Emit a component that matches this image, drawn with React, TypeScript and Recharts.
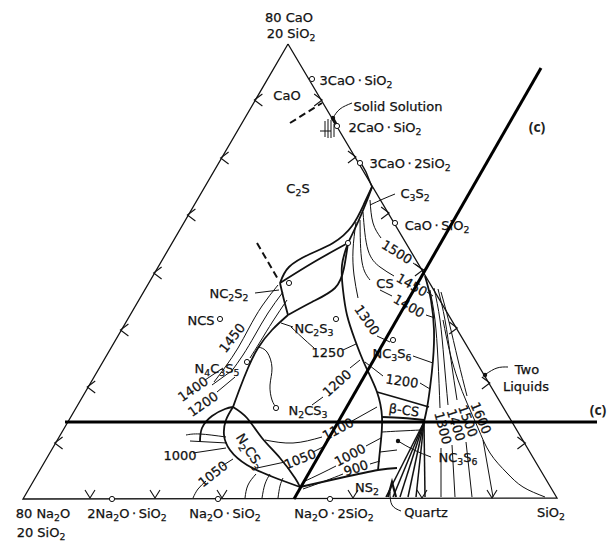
import React from "react";
import { Scatter, ScatterChart, XAxis, YAxis } from "recharts";

const TRIANGLE = [[288, 44], [23, 499], [557, 498], [288, 44]];
const CUT_INCLINED = [[541, 68], [294, 499]];
const CUT_LEVEL = [[65, 422], [597, 422]];

// field boundaries
const C2S_LENS = [[280, 283], [289, 267], [310, 254], [333, 243], [352, 226], [364, 204], [372, 187]];
const NC2S2_TOP = [[280, 283], [314, 262], [348, 243]];
const C3S2_NECK = [[348, 243], [358, 222], [366, 203], [372, 187]];
const C3S2_TIP = [[372, 187], [366, 172], [361, 163]];
const NC2S2_STEM = [[280, 283], [284, 300], [288, 315]];
const NC2S2_LOWER = [[288, 315], [312, 302], [335, 288], [344, 268], [348, 243]];
const NC2S3_LEFT = [[288, 315], [272, 330], [258, 348], [248, 368], [240, 388], [233, 407]];
const CS_NC3S6 = [[348, 243], [342, 265], [343, 290], [347, 315], [355, 340], [365, 365], [377, 392], [382, 417], [381, 440], [378, 470]];
const NS2_TOP = [[300, 487], [340, 478], [378, 470], [397, 468]];
const BETA_TOP = [[377, 392], [405, 400], [429, 407]];
const BETA_BOTTOM = [[382, 417], [403, 418], [424, 420]];
const TRIDYMITE = [[425, 276], [431, 300], [434, 330], [433, 360], [430, 388], [427, 408], [424, 422]];
const N2CS3_OUTER = [[233, 407], [247, 418], [262, 438], [280, 458], [295, 478], [300, 487]];
const N2CS3_INNER = [[233, 407], [226, 420], [224, 435], [230, 450], [247, 465], [273, 477], [300, 487]];
const NCS_ARC = [[200, 442], [202, 428], [212, 416], [225, 409], [233, 407]];
const QUARTZ_FAN_1 = [[424, 422], [386, 497]];
const QUARTZ_FAN_2 = [[424, 422], [393, 497]];
const QUARTZ_FAN_3 = [[424, 422], [400, 497]];
const QUARTZ_FAN_4 = [[424, 422], [408, 497]];
const QUARTZ_FAN_5 = [[424, 422], [416, 497]];
const QUARTZ_FAN_6 = [[424, 422], [425, 497]];
const CRISTOBALITE = [[443, 320], [450, 353], [458, 380], [467, 403], [478, 428], [490, 453], [507, 473], [523, 487], [545, 497]];
const SS_BAR = [[332, 117], [337, 126]];
const QUARTZ_WEDGE = [[388, 497], [392, 482], [396, 497]];

// isotherms
const ISO_1450_A = [[278, 285], [262, 306], [249, 328], [238, 348], [226, 366], [214, 382]];
const ISO_1450_B = [[283, 292], [268, 313], [255, 335], [243, 355], [231, 372]];
const ISO_1450_C = [[287, 300], [273, 321], [260, 342], [250, 358]];
const ISO_N4_1400_A = [[205, 380], [223, 368]];
const ISO_N4_1400_B = [[212, 385], [230, 372]];
const ISO_N4_1200 = [[217, 392], [235, 377]];
const ISO_N2CS3_LOOP = [[258, 347], [267, 352], [272, 368], [270, 385], [272, 400], [276, 407]];
const ISO_1250_A = [[291, 327], [305, 340], [314, 348]];
const ISO_1250_B = [[343, 350], [356, 344]];
const ISO_1200_NS_A = [[312, 405], [323, 397]];
const ISO_1200_NS_B = [[350, 368], [360, 360]];
const ISO_1300_CS_A = [[356, 222], [353, 250], [354, 275], [358, 298]];
const ISO_1300_CS_B = [[377, 336], [390, 342]];
const ISO_1500_A = [[370, 200], [373, 223], [381, 238]];
const ISO_1500_B = [[413, 263], [424, 270]];
const ISO_1450_CS_A = [[363, 212], [368, 250], [380, 267], [394, 276]];
const ISO_1450_CS_B = [[427, 292], [433, 296]];
const ISO_1400_CS_A = [[360, 220], [362, 262], [370, 280]];
const ISO_1400_CS_A2 = [[380, 290], [392, 296]];
const ISO_1400_CS_B = [[426, 315], [435, 318]];
const ISO_1200_R_A = [[365, 362], [383, 376]];
const ISO_1200_R_B = [[420, 383], [430, 389]];
const ISO_1100_A = [[265, 440], [293, 443], [322, 437]];
const ISO_1100_B = [[352, 421], [377, 407]];
const ISO_1000_A = [[303, 482], [320, 474], [336, 466]];
const ISO_1000_B = [[366, 446], [381, 438]];
const ISO_900_A = [[303, 489], [325, 481], [343, 474]];
const ISO_900_B = [[370, 464], [380, 461]];
const ISO_1050_MID_A = [[257, 468], [285, 462]];
const ISO_1050_MID_B = [[313, 452], [325, 446]];
const ISO_1000_LEFT = [[193, 453], [226, 448]];
const ISO_LEFT_A = [[186, 435], [200, 434], [226, 437]];
const ISO_LEFT_B = [[190, 441], [227, 443]];
const ISO_1050_LEFT_A = [[193, 498], [198, 489], [206, 481]];
const ISO_1050_LEFT_B = [[222, 466], [233, 459]];
const ISO_NS_A = [[245, 498], [248, 485], [256, 474]];
const ISO_NS_B = [[262, 498], [265, 484], [270, 474]];
const ISO_NS_C = [[278, 498], [280, 486], [283, 478]];
const ISO_NC3S6_A = [[382, 432], [400, 431], [421, 430]];
const ISO_NC3S6_B = [[380, 452], [397, 450]];
const ISO_1300_SI_A = [[430, 290], [435, 320], [438, 360], [440, 408]];
const ISO_1300_SI_B = [[441, 448], [441, 497]];
const ISO_1400_SI_A = [[434, 288], [440, 320], [444, 360], [448, 405]];
const ISO_1400_SI_B = [[452, 445], [455, 497]];
const ISO_1500_SI_A = [[438, 289], [445, 320], [451, 360], [457, 400]];
const ISO_1500_SI_B = [[466, 442], [472, 497]];
const ISO_1600_SI_A = [[441, 292], [449, 322], [458, 360], [467, 396]];
const ISO_1600_SI_B = [[483, 440], [493, 497]];

// leaders and dashed tie lines
const LEAD_SOLID = [[333, 118], [340, 109], [352, 103]];
const LEAD_C3S2 = [[370, 205], [383, 199], [395, 194]];
const LEAD_NC2S2 = [[255, 293], [279, 290]];
const LEAD_NC2S3 = [[281, 323], [293, 327]];
const LEAD_NC3S6_UP = [[413, 356], [433, 363]];
const LEAD_NC3S6_LOW = [[398, 441], [414, 450], [431, 457]];
const LEAD_QUARTZ = [[390, 492], [392, 505], [401, 511]];
const LEAD_LIQUIDS = [[486, 374], [497, 368], [508, 367]];
const HATCH_1 = [[325, 121], [325, 137]];
const HATCH_2 = [[328, 119], [328, 138]];
const HATCH_3 = [[331, 120], [331, 138]];
const HATCH_4 = [[334, 124], [334, 137]];
const HATCH_5 = [[320, 131], [331, 131]];
const DASH_TOP = [[290, 123], [322, 103]];
const DASH_MID = [[257, 243], [279, 281]];

const COMPOUND_POINTS = [
  [312, 79], [337, 126], [360, 163], [395, 223], [348, 243], [289, 283], [220, 319], [336, 319],
  [247, 362], [276, 408], [393, 340], [112, 499], [218, 499], [330, 499],
];
const POINTER_DOTS = [[333, 118], [485, 375], [398, 441]];
const LEFT_ARROWS = [100, 158, 215, 273, 330, 387, 443];
const RIGHT_ARROWS = [100, 157, 213, 270, 328, 383, 443];
const BASE_ARROWS = [90, 155, 222, 353, 422, 492];

// label text, "_" marks a subscript
const LABELS: [number, number, string, number][] = [
  [289, 17, "80 CaO", 0],
  [291, 33, "20 SiO_2", 0],
  [356, 80, "3CaO\u2009·\u2009SiO_2", 0],
  [287, 95, "CaO", 0],
  [398, 106, "Solid Solution", 0],
  [385, 127, "2CaO\u2009·\u2009SiO_2", 0],
  [410, 163, "3CaO\u2009·\u20092SiO_2", 0],
  [298, 188, "C_2S", 0],
  [415, 193, "C_3S_2", 0],
  [437, 225, "CaO\u2009·\u2009SiO_2", 0],
  [385, 283, "CS", 0],
  [397, 252, "1500", 32],
  [412, 285, "1450", 30],
  [409, 306, "1400", 30],
  [367, 320, "1300", 55],
  [229, 293, "NC_2S_2", 0],
  [201, 320, "NCS", 0],
  [232, 338, "1450", -52],
  [314, 328, "NC_2S_3", 0],
  [328, 352, "1250", 0],
  [217, 368, "N_4C_3S_5", 0],
  [193, 389, "1400", -35],
  [203, 404, "1200", -35],
  [392, 353, "NC_3S_6", 0],
  [402, 381, "1200", 8],
  [337, 383, "1200", -42],
  [308, 410, "N_2CS_3", 0],
  [404, 410, "β-CS", 8],
  [527, 369, "Two", 0],
  [526, 386, "Liquids", 0],
  [180, 455, "1000", 0],
  [250, 451, "N_2CS_3", 57],
  [300, 459, "1050", -22],
  [213, 474, "1050", -38],
  [338, 429, "1100", -28],
  [350, 455, "1000", -28],
  [356, 468, "900", -18],
  [367, 487, "NS_2", 0],
  [458, 457, "NC_3S_6", 0],
  [443, 428, "1300", 75],
  [456, 425, "1400", 72],
  [468, 421, "1500", 70],
  [481, 418, "1600", 67],
  [426, 512, "Quartz", 0],
  [551, 512, "SiO_2", 0],
  [43, 513, "80 Na_2O", 0],
  [41, 532, "20 SiO_2", 0],
  [127, 513, "2Na_2O\u2009·\u2009SiO_2", 0],
  [225, 513, "Na_2O\u2009·\u2009SiO_2", 0],
  [334, 513, "Na_2O\u2009·\u20092SiO_2", 0],
];
const SECTION_MARKS: [number, number, string][] = [
  [537, 127, "(c)"],
  [598, 410, "(c)"],
];

const INK = "#111";
const pts = (a: number[][]) => a.map(([x, y]) => ({ x, y }));

const THICK = [
  C2S_LENS, NC2S2_TOP, C3S2_NECK, NC2S2_STEM, NC2S2_LOWER, NC2S3_LEFT, CS_NC3S6, NS2_TOP,
  BETA_TOP, BETA_BOTTOM, TRIDYMITE, N2CS3_OUTER, N2CS3_INNER, NCS_ARC,
];
const FAN = [QUARTZ_FAN_1, QUARTZ_FAN_2, QUARTZ_FAN_3, QUARTZ_FAN_4, QUARTZ_FAN_5, QUARTZ_FAN_6, C3S2_TIP];
const THIN = [
  CRISTOBALITE, ISO_1450_A, ISO_1450_B, ISO_1450_C, ISO_N4_1400_A, ISO_N4_1400_B, ISO_N4_1200,
  ISO_N2CS3_LOOP, ISO_1250_A, ISO_1250_B, ISO_1200_NS_A, ISO_1200_NS_B, ISO_1300_CS_A, ISO_1300_CS_B,
  ISO_1500_A, ISO_1500_B, ISO_1450_CS_A, ISO_1450_CS_B, ISO_1400_CS_A, ISO_1400_CS_A2, ISO_1400_CS_B,
  ISO_1200_R_A, ISO_1200_R_B, ISO_1100_A, ISO_1100_B, ISO_1000_A, ISO_1000_B, ISO_900_A, ISO_900_B,
  ISO_1050_MID_A, ISO_1050_MID_B, ISO_1000_LEFT, ISO_LEFT_A, ISO_LEFT_B, ISO_1050_LEFT_A, ISO_1050_LEFT_B,
  ISO_NS_A, ISO_NS_B, ISO_NS_C, ISO_NC3S6_A, ISO_NC3S6_B,
  ISO_1300_SI_A, ISO_1300_SI_B, ISO_1400_SI_A, ISO_1400_SI_B, ISO_1500_SI_A, ISO_1500_SI_B,
  ISO_1600_SI_A, ISO_1600_SI_B,
  LEAD_SOLID, LEAD_C3S2, LEAD_NC2S2, LEAD_NC2S3, LEAD_NC3S6_UP, LEAD_NC3S6_LOW, LEAD_QUARTZ, LEAD_LIQUIDS,
  HATCH_1, HATCH_2, HATCH_3, HATCH_4, HATCH_5,
];

// x of the left and right triangle edges at a given y
const leftEdgeX = (y: number) => 288 - ((y - 44) * (288 - 23)) / (499 - 44);
const rightEdgeX = (y: number) => 288 + ((y - 44) * (557 - 288)) / (498 - 44);
const arrowData = [
  ...LEFT_ARROWS.map((y) => ({ x: leftEdgeX(y), y, dir: "L" })),
  ...RIGHT_ARROWS.map((y) => ({ x: rightEdgeX(y), y, dir: "R" })),
  ...BASE_ARROWS.map((x) => ({ x, y: 498, dir: "D" })),
];
const labelData = LABELS.map(([x, y, text, rot]) => ({ x, y, text, rot }));
const markData = SECTION_MARKS.map(([x, y, text]) => ({ x, y, text }));

const none = () => <g />;

function rich(text: string, size: number) {
  const parts: { t: string; sub: boolean }[] = [];
  let buf = "";
  for (let i = 0; i < text.length; i++) {
    if (text[i] === "_") {
      if (buf) parts.push({ t: buf, sub: false });
      buf = "";
      parts.push({ t: text[i + 1], sub: true });
      i++;
    } else buf += text[i];
  }
  if (buf) parts.push({ t: buf, sub: false });
  let prevSub = false;
  return parts.map((p, i) => {
    const dy = p.sub && !prevSub ? 3.6 : !p.sub && prevSub ? -3.6 : 0;
    prevSub = p.sub;
    return (
      <tspan key={i} dy={dy} fontSize={p.sub ? size * 0.72 : size}>
        {p.t}
      </tspan>
    );
  });
}

function LabelShape(props: any) {
  const { cx, cy, payload } = props;
  const size = 13;
  return (
    <text
      x={cx}
      y={cy + 4.6}
      textAnchor="middle"
      fontFamily="'DejaVu Sans', sans-serif"
      fontSize={size}
      fill={INK}
      stroke={INK}
      strokeWidth={0.25}
      transform={payload.rot ? `rotate(${payload.rot} ${cx} ${cy})` : undefined}
    >
      {rich(payload.text, size)}
    </text>
  );
}

function MarkShape(props: any) {
  const { cx, cy, payload } = props;
  return (
    <text x={cx} y={cy + 5} textAnchor="middle" fontFamily="'Open Sans', sans-serif" fontWeight={700} fontSize={14} fill="#222">
      {payload.text}
    </text>
  );
}

function ArrowShape(props: any) {
  const { cx, cy, payload } = props;
  let d = "";
  if (payload.dir === "L") d = `M${cx + 7},${cy - 6} L${cx - 1},${cy} L${cx + 7},${cy + 6}`;
  else if (payload.dir === "R") d = `M${cx - 7},${cy - 6} L${cx + 1},${cy} L${cx - 7},${cy + 6}`;
  else d = `M${cx - 5},${cy - 8} L${cx},${cy} L${cx + 5},${cy - 8}`;
  return <path d={d} fill="none" stroke={INK} strokeWidth={1.1} />;
}

function RingShape(props: any) {
  const { cx, cy } = props;
  return <circle cx={cx} cy={cy} r={2.6} fill="#fff" stroke={INK} strokeWidth={1} />;
}

function DotShape(props: any) {
  const { cx, cy } = props;
  return <circle cx={cx} cy={cy} r={2.2} fill={INK} />;
}

function poly(key: string, data: number[][], width: number, opts: { dash?: string; stroke?: string; curve?: string } = {}) {
  const stroke = opts.stroke ?? INK;
  return (
    <Scatter
      key={key}
      data={pts(data)}
      fill={stroke}
      line={{ stroke, strokeWidth: width, strokeDasharray: opts.dash }}
      lineType="joint"
      lineJointType={(opts.curve ?? "natural") as any}
      shape={none}
      legendType="none"
      isAnimationActive={false}
    />
  );
}

export default function App() {
  if (typeof document !== "undefined") document.body.style.margin = "0";
  return (
    <div style={{ position: "absolute", left: 0, top: 0, width: 608, height: 541, background: "#fff" }}>
      <ScatterChart width={608} height={541} margin={{ top: 0, right: 0, bottom: 0, left: 0 }}>
        <XAxis type="number" dataKey="x" domain={[0, 608]} hide allowDataOverflow />
        <YAxis type="number" dataKey="y" domain={[0, 541]} reversed hide allowDataOverflow />
        {poly("tri", TRIANGLE, 1.3, { curve: "linear" })}
        {THIN.map((d, i) => poly(`thin${i}`, d, 1))}
        {THICK.map((d, i) => poly(`thick${i}`, d, 1.8))}
        {FAN.map((d, i) => poly(`fan${i}`, d, 1.5, { curve: "linear" }))}
        {poly("ss", SS_BAR, 3.2, { curve: "linear" })}
        {poly("qw", QUARTZ_WEDGE, 2.2, { curve: "linear" })}
        {poly("dash1", DASH_TOP, 2, { dash: "7 4", curve: "linear" })}
        {poly("dash2", DASH_MID, 2, { dash: "7 4", curve: "linear" })}
        <Scatter data={arrowData} shape={ArrowShape} legendType="none" isAnimationActive={false} />
        <Scatter data={pts(COMPOUND_POINTS)} shape={RingShape} legendType="none" isAnimationActive={false} />
        <Scatter data={pts(POINTER_DOTS)} shape={DotShape} legendType="none" isAnimationActive={false} />
        <Scatter data={labelData} shape={LabelShape} legendType="none" isAnimationActive={false} />
        {poly("cut1", CUT_INCLINED, 3, { stroke: "#000", curve: "linear" })}
        {poly("cut2", CUT_LEVEL, 3, { stroke: "#000", curve: "linear" })}
        <Scatter data={markData} shape={MarkShape} legendType="none" isAnimationActive={false} />
      </ScatterChart>
    </div>
  );
}
